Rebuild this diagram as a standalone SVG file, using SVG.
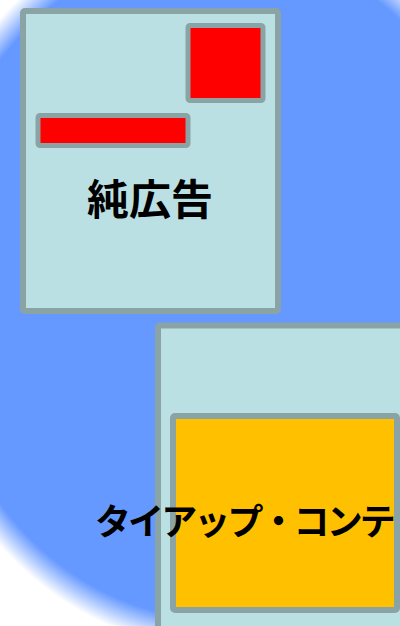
<svg xmlns="http://www.w3.org/2000/svg" width="400" height="626" viewBox="0 0 400 626">
  <defs>
    <radialGradient id="bg" gradientUnits="userSpaceOnUse" cx="218" cy="282" r="314" gradientTransform="translate(218 282) scale(1 1.1667) translate(-218 -282)">
      <stop offset="0" stop-color="#6699ff"/>
      <stop offset="0.92" stop-color="#6699ff"/>
      <stop offset="1" stop-color="#ffffff"/>
    </radialGradient>
  </defs>
  <style>
    .box { fill: #bbe0e3; stroke: #8aa4a5; stroke-width: 6; }
    .ad { fill: #ff0000; stroke: #8aa4a5; stroke-width: 5; }
    .tie { fill: #ffc000; stroke: #8aa4a5; stroke-width: 6; }
    .lbl { font-family: "Noto Sans CJK JP", "Noto Sans", sans-serif; font-weight: bold; fill: #000; }
  </style>
  <rect x="0" y="0" width="400" height="626" fill="url(#bg)"/>
  <g id="pure-ad">
    <rect class="box" x="23" y="11" width="255" height="300" rx="2"/>
    <rect class="ad" x="188" y="25.5" width="75" height="75" rx="2"/>
    <rect class="ad" x="38" y="115.5" width="150" height="30" rx="2"/>
    <text class="lbl" x="150" y="215" font-size="42" text-anchor="middle">純広告</text>
  </g>
  <g id="tieup">
    <rect class="box" x="158" y="325.5" width="260" height="320" rx="2"/>
    <rect class="tie" x="173" y="416" width="224" height="194" rx="2"/>
    <text class="lbl" x="95" y="535" font-size="36" letter-spacing="-2.9">タイアップ・コンテ</text>
  </g>
  <g id="connectors"/>
</svg>
